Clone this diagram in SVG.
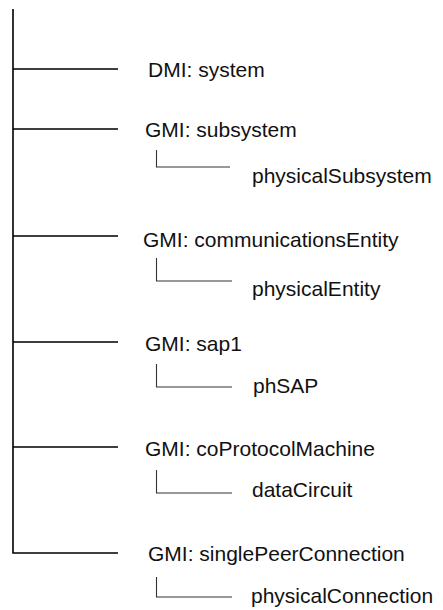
<svg xmlns="http://www.w3.org/2000/svg" width="443" height="610" viewBox="0 0 443 610">
<style>
.t{font-family:"Liberation Sans",Arial,sans-serif;font-size:21px;fill:#111}
.m{stroke:#000;stroke-width:1.6;fill:none}
.b{stroke:#333;stroke-width:1.1;fill:none}
</style>
<rect width="443" height="610" fill="#fff"/>
<g id="connectors">
<path class="m" d="M13 9V553H118"/>
<path class="m" d="M13 69H118M13 129H118M13 236H118M13 342H118M13 447H118"/>
<path class="b" d="M156.5 150V167H230"/>
<path class="b" d="M156.5 258V281H232"/>
<path class="b" d="M156.5 364V387H232"/>
<path class="b" d="M156.5 470V493H232"/>
<path class="b" d="M156.5 577V597H232"/>
</g>
<g id="n-system"><text class="t" x="148" y="76.5">DMI: system</text></g>
<g id="n-subsystem"><text class="t" x="145" y="137">GMI: subsystem</text></g>
<g id="n-physicalSubsystem"><text class="t" x="252" y="183">physicalSubsystem</text></g>
<g id="n-communicationsEntity"><text class="t" x="143" y="246.5">GMI: communicationsEntity</text></g>
<g id="n-physicalEntity"><text class="t" x="252" y="296">physicalEntity</text></g>
<g id="n-sap1"><text class="t" x="145" y="351">GMI: sap1</text></g>
<g id="n-phSAP"><text class="t" x="253" y="393">phSAP</text></g>
<g id="n-coProtocolMachine"><text class="t" x="145" y="456">GMI: coProtocolMachine</text></g>
<g id="n-dataCircuit"><text class="t" x="252" y="497">dataCircuit</text></g>
<g id="n-singlePeerConnection"><text class="t" x="148" y="561">GMI: singlePeerConnection</text></g>
<g id="n-physicalConnection"><text class="t" x="251" y="603">physicalConnection</text></g>
</svg>
